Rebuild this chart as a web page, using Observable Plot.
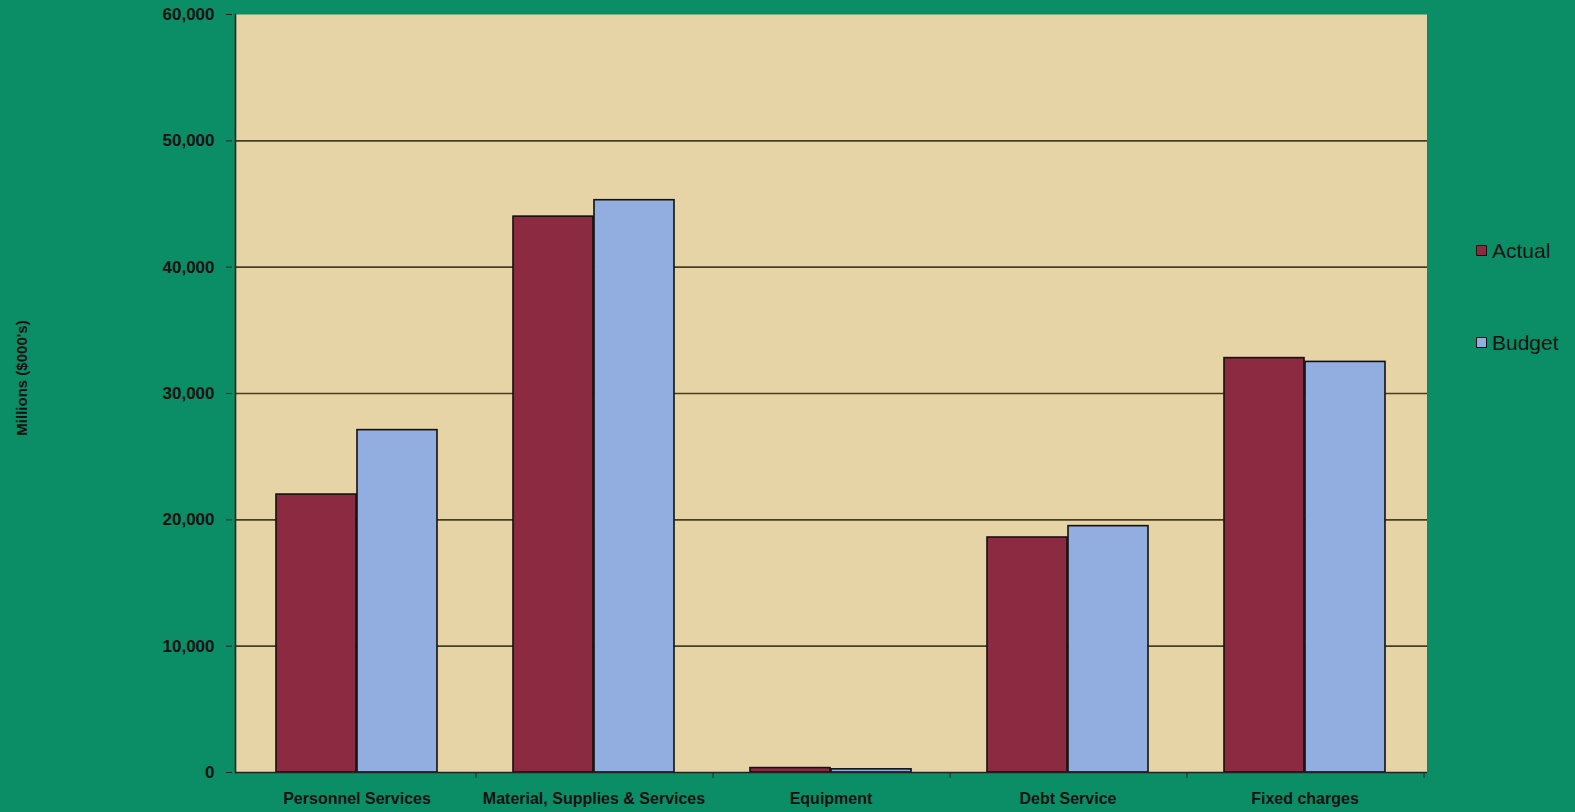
<!DOCTYPE html>
<html>
<head>
<meta charset="utf-8">
<script src="https://cdn.jsdelivr.net/npm/d3@7"></script>
<script src="https://cdn.jsdelivr.net/npm/@observablehq/plot@0.6"></script>
<style>
  html, body { margin: 0; padding: 0; background: #0b8d66; }
  #wrap { position: relative; width: 1575px; height: 812px; overflow: hidden; background: #0b8d66; }
  #chart { position: absolute; left: 0; top: 0; }
  .legend { position: absolute; left: 1476px; font-family: "Liberation Sans", Arial, sans-serif; font-size: 21px; color: #111; display: flex; align-items: center; line-height: 1; }
  .legend .sw { width: 9px; height: 9px; border: 1px solid #111; margin-right: 5px; }
  #ylabel { position: absolute; left: 21px; top: 378px; transform: translate(-50%, -50%) rotate(-90deg); font-family: "Liberation Sans", Arial, sans-serif; font-weight: bold; font-size: 15px; color: #111; white-space: nowrap; }
</style>
</head>
<body>
<div id="wrap">
  <div id="chart"></div>
  <div id="ylabel">Millions ($000's)</div>
  <div class="legend" style="top:240px"><div class="sw" style="background:#8c2a42"></div>Actual</div>
  <div class="legend" style="top:332px"><div class="sw" style="background:#92aee0"></div>Budget</div>
</div>
<script>
const categories = ["Personnel Services", "Material, Supplies & Services", "Equipment", "Debt Service", "Fixed charges"];
const actual = [22000, 44000, 350, 18600, 32800];
const budget = [27100, 45300, 250, 19500, 32500];
const yTicks = [0, 10000, 20000, 30000, 40000, 50000, 60000];

const colors = { Actual: "#8c2a42", Budget: "#92aee0" };
const dataA = categories.map((c, i) => ({ category: c, value: actual[i] }));
const dataB = categories.map((c, i) => ({ category: c, value: budget[i] }));

const halfBand = 81;
const stepHalf = 119;

const chart = Plot.plot({
  width: 1575,
  height: 812,
  marginLeft: 235,
  marginRight: 148,
  marginTop: 14,
  marginBottom: 40,
  style: { background: "transparent", fontFamily: "'Liberation Sans', Arial, sans-serif" },
  x: { domain: categories, paddingInner: 0.32, paddingOuter: 0.17, axis: null },
  y: { domain: [0, 60000], axis: null },
  marks: [
    Plot.frame({ fill: "#e7d4a6", stroke: "none" }),
    Plot.ruleY(yTicks.filter(d => d > 0 && d < 60000), { stroke: "#443e24", strokeWidth: 1.6 }),
    Plot.barY(dataA, { x: "category", y: "value", fill: colors.Actual, stroke: "#111", strokeWidth: 1.6, insetRight: halfBand }),
    Plot.barY(dataB, { x: "category", y: "value", fill: colors.Budget, stroke: "#111", strokeWidth: 1.6, insetLeft: halfBand }),
    Plot.frame({ anchor: "left", stroke: "#222", strokeWidth: 1.6 }),
    Plot.frame({ anchor: "right", stroke: "#6b6040", strokeWidth: 1 }),
    Plot.ruleY([0], { stroke: "#222", strokeWidth: 1.6 }),
    Plot.ruleX(categories, { x: d => d, y1: 0, y2: 0, dx: stepHalf, insetBottom: -6, stroke: "#222" }),
    Plot.axisY({ ticks: yTicks, tickFormat: d3.format(","), tickSize: 6, tickPadding: 12, fontSize: 17, fontWeight: "bold", fill: "#111", stroke: "#222", label: null, dx: -3 }),
    Plot.axisX({ tickSize: 0, tickPadding: 20, fontSize: 16, fontWeight: "bold", fill: "#111", label: null })
  ]
});
document.getElementById("chart").appendChild(chart);
</script>
</body>
</html>
